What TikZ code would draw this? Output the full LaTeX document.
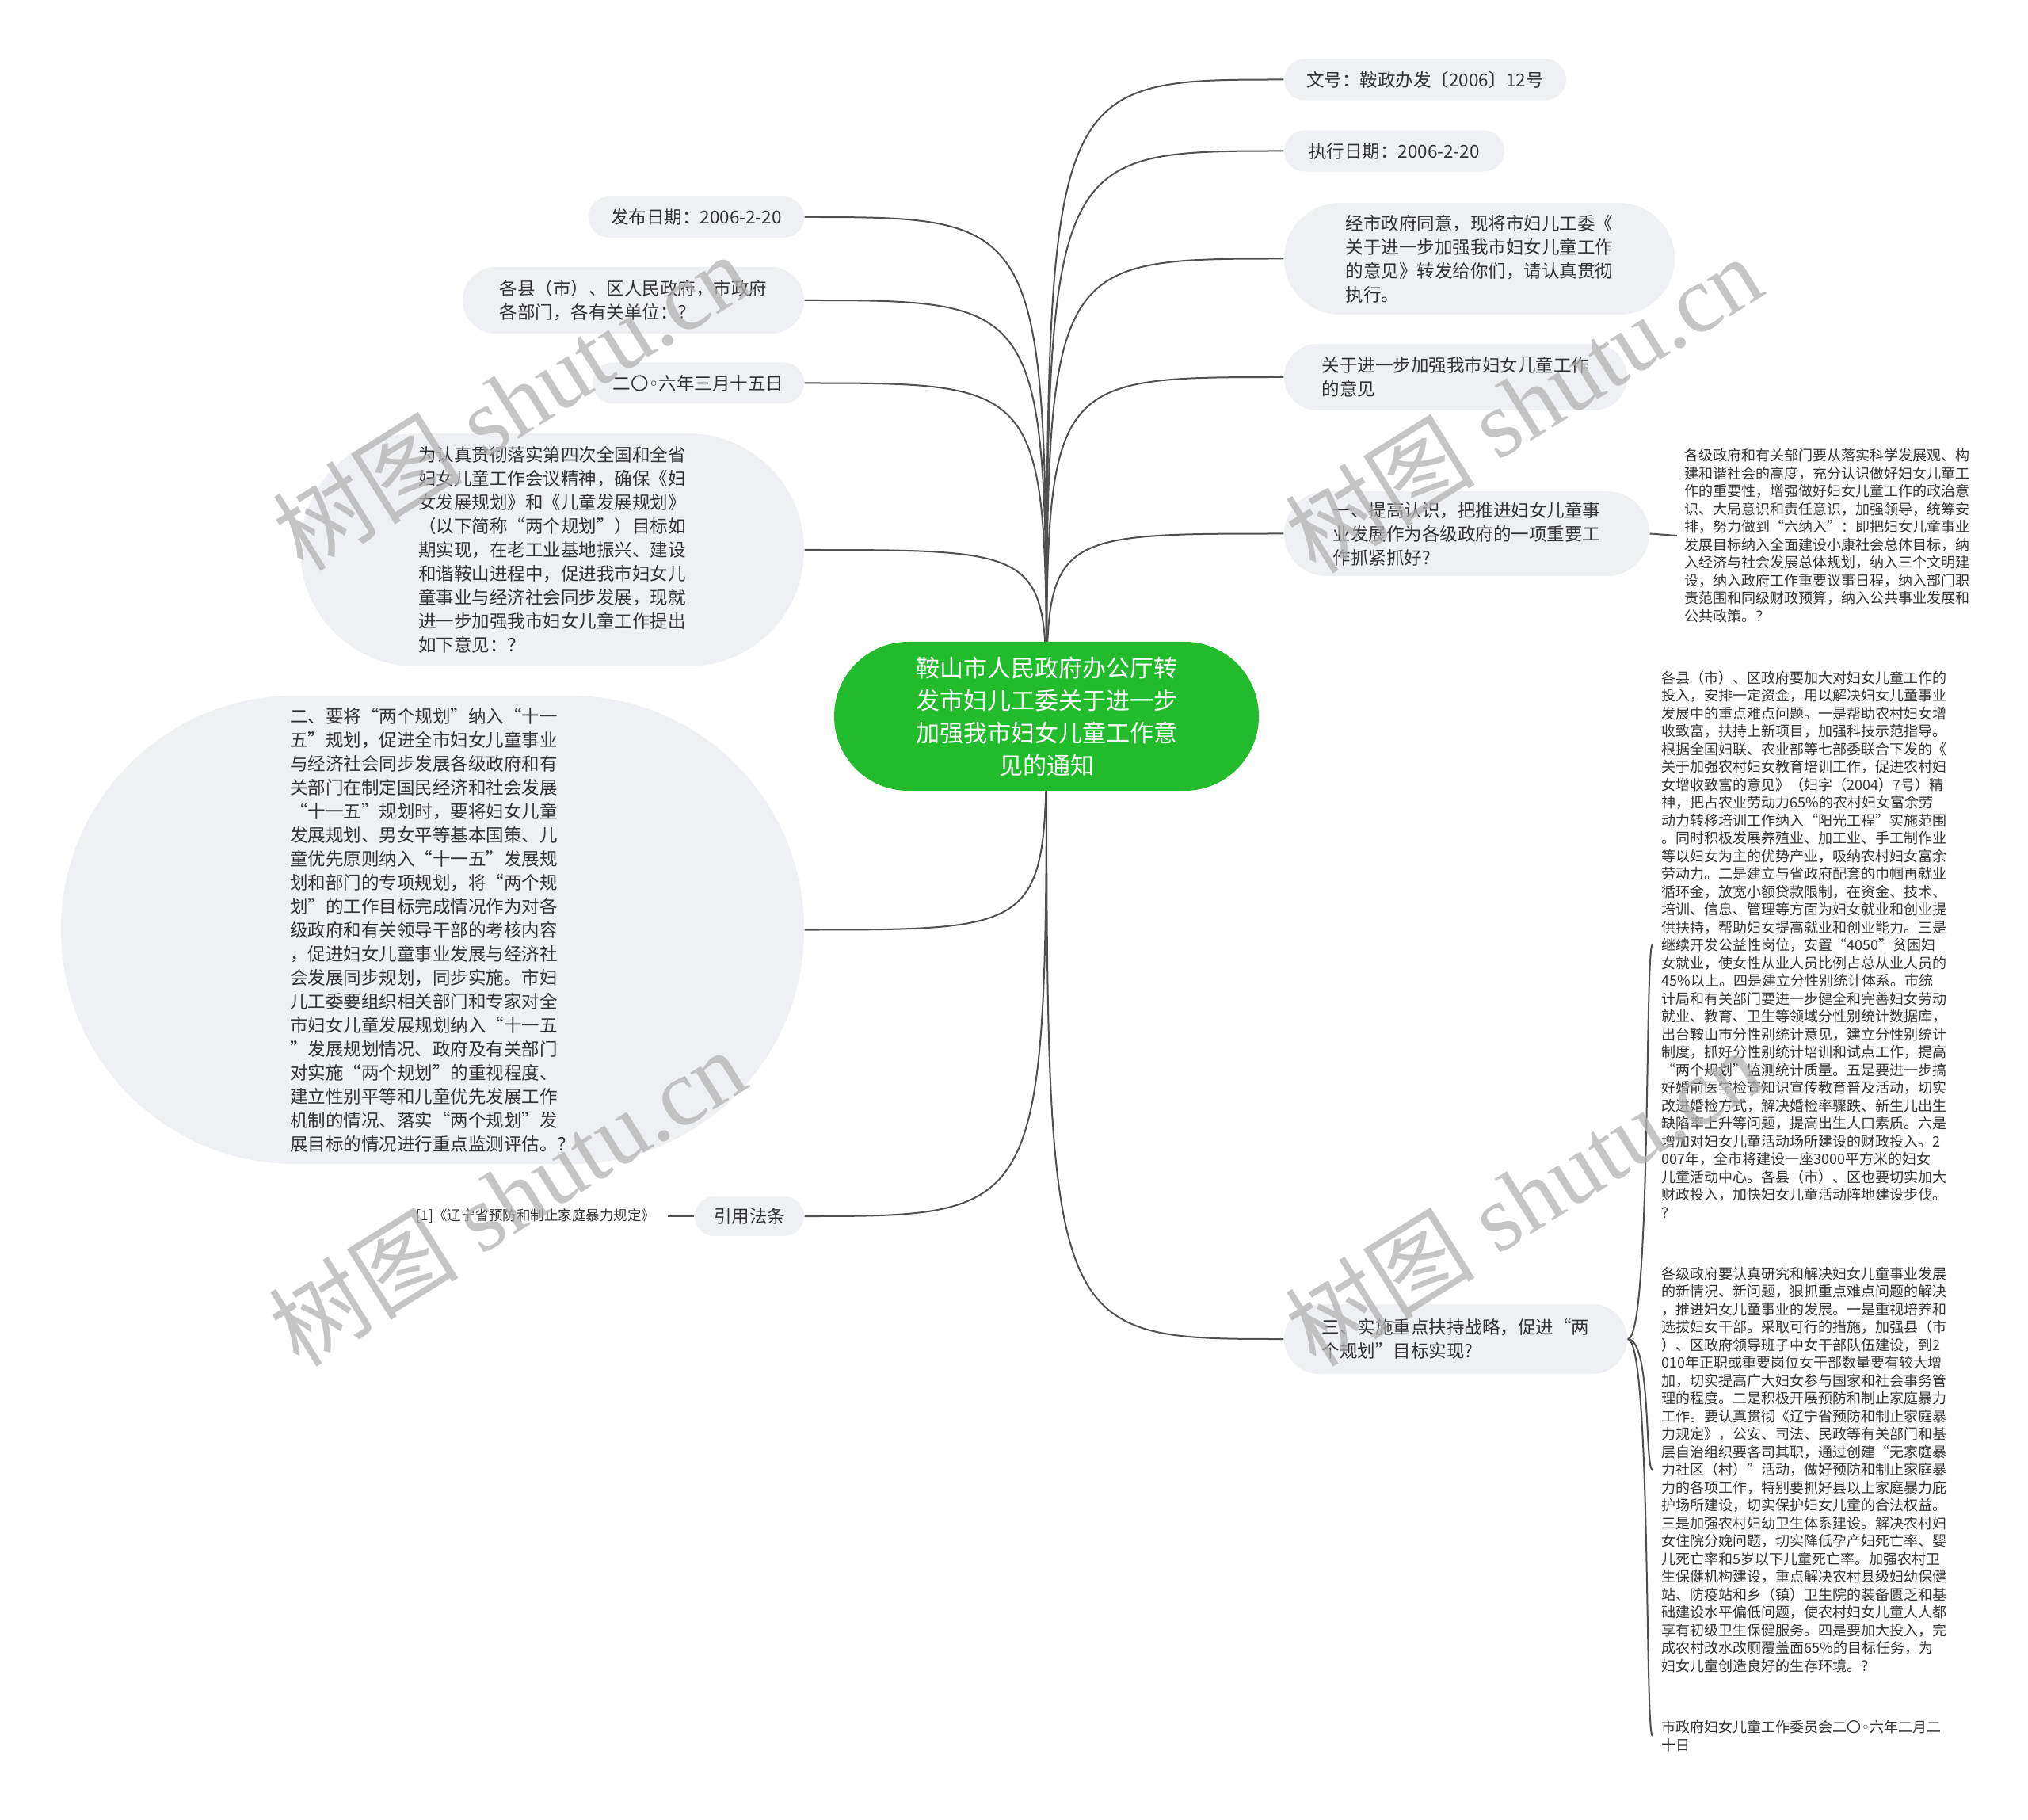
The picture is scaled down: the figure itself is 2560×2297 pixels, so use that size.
\documentclass[tikz,border=0pt]{standalone}
\usepackage{fontspec}
\newfontfamily\cjk{Noto Sans CJK SC}
\newfontfamily\dv{DejaVu Sans}
\newfontfamily\wmserif{Liberation Serif}
\usetikzlibrary{calc}
\definecolor{txt}{HTML}{333333}
\definecolor{nodefill}{HTML}{EEF0F3}
\definecolor{rootgreen}{HTML}{22BB2C}
\definecolor{linec}{HTML}{505050}
\newcommand\oq{\makebox[1em][r]{“}}
\newcommand\cq{\makebox[1em][l]{”}}
\newcommand\smallo{{\dv ◦}}
\pgfdeclarelayer{bgzero}
\pgfdeclarelayer{bglines}
\pgfsetlayers{bgzero,bglines,main}
\tikzset{
  tb/.style 2 args={font=\cjk\fontsize{6.75pt}{9pt}\selectfont, text=txt, align=left,
    inner sep=0pt, fill=nodefill, minimum width=#1, minimum height=#2, rounded corners=0.499*#2},
  plaintext/.style={font=\cjk\fontsize{5.4pt}{6.75pt}\selectfont, text=txt, align=left,
    inner ysep=0pt, inner xsep=3.3pt},
  rootnode/.style={font=\cjk\fontsize{9pt}{12.3pt}\selectfont, text=white, align=center,
    inner sep=0pt, fill=rootgreen, minimum width=160.8pt, minimum height=56.4pt, rounded corners=28.1pt},
  link/.style={draw=linec, line width=0.6pt},
  wm/.style={font=\wmserif\fontsize{36pt}{36pt}\selectfont, text=black!30, text opacity=0.75,
    rotate=32, inner sep=0pt}
}
\begin{document}
\begin{tikzpicture}[x=0.3pt,y=-0.3pt]
\useasboundingbox (0,0) rectangle (2560,2297);
\begin{pgfonlayer}{bgzero}
\fill[white] (0,0) rectangle (2560,2297);
\end{pgfonlayer}

% root
\node[rootnode] (root) at (1321,904) {鞍山市人民政府办公厅转\\发市妇儿工委关于进一步\\加强我市妇女儿童工作意\\见的通知};

% right topics
\node[tb={106.8pt}{15.6pt}] (R1) at (1799,100.5) {文号：鞍政办发〔2006〕12号};
\node[tb={83.4pt}{15.6pt}] (R2) at (1760,190.5) {执行日期：2006-2-20};
\node[tb={147.9pt}{42.3pt}] (R3) at (1867.5,326.5) {经市政府同意，现将市妇儿工委《\\关于进一步加强我市妇女儿童工作\\的意见》转发给你们，请认真贯彻\\执行。};
\node[tb={129.9pt}{25.2pt}] (R4) at (1837.5,476) {关于进一步加强我市妇女儿童工作\\的意见};
\node[tb={138.3pt}{32.1pt}] (R5) at (1851.5,673.5) {一、提高认识，把推进妇女儿童事\\业发展作为各级政府的一项重要工\\作抓紧抓好?};
\node[tb={129.9pt}{26.4pt}] (R6) at (1837.5,1690) {三、实施重点扶持战略，促进\oq 两\\个规划\cq 目标实现?};

% right plain texts
\node[plaintext, inner xsep=2.7pt, anchor=west] (B1) at (2117,676) {各级政府和有关部门要从落实科学发展观、构\\建和谐社会的高度，充分认识做好妇女儿童工\\作的重要性，增强做好妇女儿童工作的政治意\\识、大局意识和责任意识，加强领导，统筹安\\排，努力做到\oq 六纳入\cq ：即把妇女儿童事业\\发展目标纳入全面建设小康社会总体目标，纳\\入经济与社会发展总体规划，纳入三个文明建\\设，纳入政府工作重要议事日程，纳入部门职\\责范围和同级财政预算，纳入公共事业发展和\\公共政策。？};

\node[plaintext, anchor=west] (B2) at (2086,1192) {各县（市）、区政府要加大对妇女儿童工作的\\投入，安排一定资金，用以解决妇女儿童事业\\发展中的重点难点问题。一是帮助农村妇女增\\收致富，扶持上新项目，加强科技示范指导。\\根据全国妇联、农业部等七部委联合下发的《\\关于加强农村妇女教育培训工作，促进农村妇\\女增收致富的意见》（妇字（2004）7号）精\\神，把占农业劳动力65\%的农村妇女富余劳\\动力转移培训工作纳入\oq 阳光工程\cq 实施范围\\。同时积极发展养殖业、加工业、手工制作业\\等以妇女为主的优势产业，吸纳农村妇女富余\\劳动力。二是建立与省政府配套的巾帼再就业\\循环金，放宽小额贷款限制，在资金、技术、\\培训、信息、管理等方面为妇女就业和创业提\\供扶持，帮助妇女提高就业和创业能力。三是\\继续开发公益性岗位，安置\oq 4050\cq 贫困妇\\女就业，使女性从业人员比例占总从业人员的\\45\%以上。四是建立分性别统计体系。市统\\计局和有关部门要进一步健全和完善妇女劳动\\就业、教育、卫生等领域分性别统计数据库，\\出台鞍山市分性别统计意见，建立分性别统计\\制度，抓好分性别统计培训和试点工作，提高\\\oq 两个规划\cq 监测统计质量。五是要进一步搞\\好婚前医学检查知识宣传教育普及活动，切实\\改进婚检方式，解决婚检率骤跌、新生儿出生\\缺陷率上升等问题，提高出生人口素质。六是\\增加对妇女儿童活动场所建设的财政投入。2\\007年，全市将建设一座3000平方米的妇女\\儿童活动中心。各县（市）、区也要切实加大\\财政投入，加快妇女儿童活动阵地建设步伐。\\？};

\node[plaintext, anchor=west] (B3) at (2086,1855) {各级政府要认真研究和解决妇女儿童事业发展\\的新情况、新问题，狠抓重点难点问题的解决\\，推进妇女儿童事业的发展。一是重视培养和\\选拔妇女干部。采取可行的措施，加强县（市\\）、区政府领导班子中女干部队伍建设，到2\\010年正职或重要岗位女干部数量要有较大增\\加，切实提高广大妇女参与国家和社会事务管\\理的程度。二是积极开展预防和制止家庭暴力\\工作。要认真贯彻《辽宁省预防和制止家庭暴\\力规定》，公安、司法、民政等有关部门和基\\层自治组织要各司其职，通过创建\oq 无家庭暴\\力社区（村）\cq 活动，做好预防和制止家庭暴\\力的各项工作，特别要抓好县以上家庭暴力庇\\护场所建设，切实保护妇女儿童的合法权益。\\三是加强农村妇幼卫生体系建设。解决农村妇\\女住院分娩问题，切实降低孕产妇死亡率、婴\\儿死亡率和5岁以下儿童死亡率。加强农村卫\\生保健机构建设，重点解决农村县级妇幼保健\\站、防疫站和乡（镇）卫生院的装备匮乏和基\\础建设水平偏低问题，使农村妇女儿童人人都\\享有初级卫生保健服务。四是要加大投入，完\\成农村改水改厕覆盖面65\%的目标任务，为\\妇女儿童创造良好的生存环境。？};

\node[plaintext, anchor=west] (B4) at (2086,2191) {市政府妇女儿童工作委员会二〇\smallo 六年二月二\\十日};

% left topics
\node[tb={81.6pt}{15.6pt}] (L1) at (879,274) {发布日期：2006-2-20};
\node[tb={129.3pt}{25.2pt}] (L2) at (799.5,379) {各县（市）、区人民政府，市政府\\各部门，各有关单位：？};
\node[tb={80.1pt}{15.6pt}] (L3) at (881.5,483.5) {二〇\smallo 六年三月十五日};
\node[tb={190.8pt}{88.2pt}] (L4) at (697,694) {为认真贯彻落实第四次全国和全省\\妇女儿童工作会议精神，确保《妇\\女发展规划》和《儿童发展规划》\\（以下简称\oq 两个规划\cq ）目标如\\期实现，在老工业基地振兴、建设\\和谐鞍山进程中，促进我市妇女儿\\童事业与经济社会同步发展，现就\\进一步加强我市妇女儿童工作提出\\如下意见：？};
\node[tb={281.4pt}{177.3pt}] (L5) at (546,1173.5) {二、要将\oq 两个规划\cq 纳入\oq 十一\\五\cq 规划，促进全市妇女儿童事业\\与经济社会同步发展各级政府和有\\关部门在制定国民经济和社会发展\\\oq 十一五\cq 规划时，要将妇女儿童\\发展规划、男女平等基本国策、儿\\童优先原则纳入\oq 十一五\cq 发展规\\划和部门的专项规划，将\oq 两个规\\划\cq 的工作目标完成情况作为对各\\级政府和有关领导干部的考核内容\\，促进妇女儿童事业发展与经济社\\会发展同步规划，同步实施。市妇\\儿工委要组织相关部门和专家对全\\市妇女儿童发展规划纳入\oq 十一五\\\cq 发展规划情况、政府及有关部门\\对实施\oq 两个规划\cq 的重视程度、\\建立性别平等和儿童优先发展工作\\机制的情况、落实\oq 两个规划\cq 发\\展目标的情况进行重点监测评估。？};
\node[tb={41.4pt}{15pt}] (L6) at (946,1535) {引用法条};
\node[plaintext, font=\cjk\fontsize{5.25pt}{6.5pt}\selectfont, inner xsep=4.5pt, anchor=east] (Lc) at (843,1535) {[1]《辽宁省预防和制止家庭暴力规定》};

% connectors
\begin{pgfonlayer}{bglines}
\foreach \n in {R1,R2,R3,R4,R5,R6}{
  \draw[link] (root.center) .. controls (root.center |- \n.west) .. (\n.west);
}
\foreach \n in {L1,L2,L3,L4,L5,L6}{
  \draw[link] (root.center) .. controls (root.center |- \n.east) .. (\n.east);
}
\draw[link] (R5.east) -- (B1.west);
\foreach \n in {B2,B3,B4}{
  \draw[link] (R6.east) .. controls ($(R6.east)+(30,0)$) and ($(\n.west)+(-10,0)$) .. (\n.west);
}
\draw[link] (L6.west) -- (Lc.east);
\end{pgfonlayer}

% watermarks
\node[wm] (wm1) at (645,506) {{\cjk 树图} shutu.cn};
\node[wm] (wm2) at (1923,509) {{\cjk 树图} shutu.cn};
\node[wm] (wm3) at (640,1510) {{\cjk 树图} shutu.cn};
\node[wm] (wm4) at (1923,1510) {{\cjk 树图} shutu.cn};
\end{tikzpicture}
\end{document}
